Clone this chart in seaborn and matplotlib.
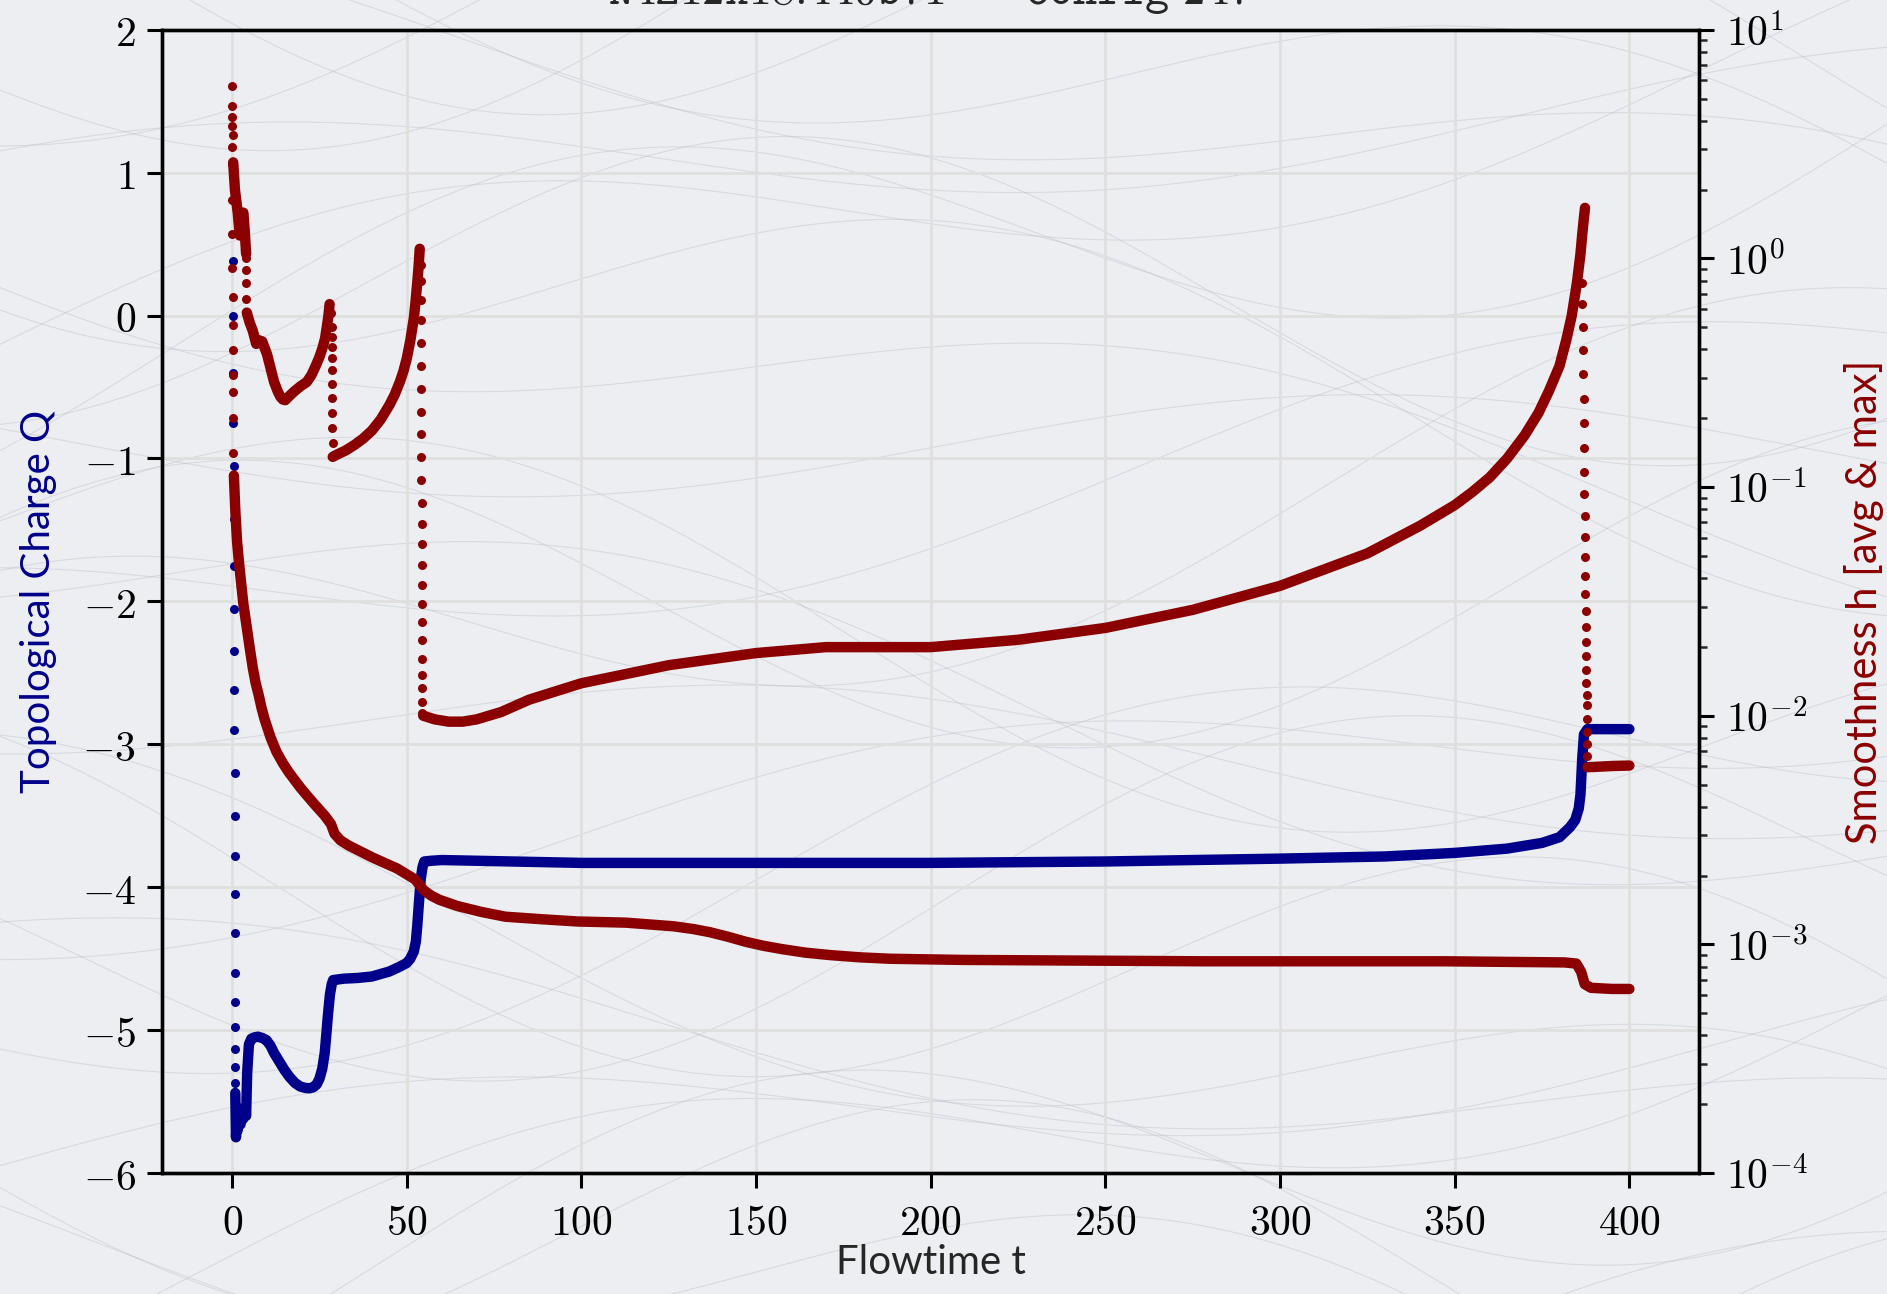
import numpy as np
import pandas as pd
import seaborn as sns
import matplotlib.pyplot as plt
from matplotlib.ticker import FuncFormatter, LogLocator, MultipleLocator

# ---- data ----
# topological charge Q: fast initial drop (sparse dots) then continuous flow
q_drop_t = [0.2, 0.25, 0.3, 0.35, 0.4, 0.45, 0.5, 0.55, 0.6, 0.62, 0.65, 0.68, 0.7, 0.72, 0.74, 0.76, 0.78, 0.8, 0.82, 0.84, 0.86, 0.88]
q_drop = [0.38, 0.0, -0.40, -0.75, -1.05, -1.42, -1.75, -2.05, -2.35, -2.62, -2.90, -3.20, -3.50, -3.78, -4.05, -4.32, -4.60, -4.80, -4.98, -5.13, -5.26, -5.37]

q_t = [0.9, 1.1, 1.3, 1.6, 2.0, 2.4, 2.8, 3.2, 3.6, 4.0, 4.3, 4.8, 5.5, 6.5, 7.4, 8.6, 9.8, 11.0, 12.0, 13.5, 15.0, 16.5, 18.0, 19.5, 21.0, 22.2, 23.2, 24.2, 25.0, 25.8, 26.5, 27.0, 27.4, 28.0, 28.5, 28.9,
       32.0, 36.0, 40.0, 45.0, 48.0, 50.0, 51.0, 52.0, 52.6, 53.0, 53.5, 54.0, 54.5, 55.0, 57.0, 60.0,
       100.0, 150.0, 200.0, 250.0, 300.0, 330.0, 350.0, 365.0, 375.0, 380.0, 383.0, 384.5, 385.5, 386.0, 386.5, 387.0, 388.0, 400.0]
q = [-5.44, -5.75, -5.62, -5.70, -5.55, -5.66, -5.60, -5.62, -5.55, -5.60, -5.30, -5.10, -5.06, -5.05, -5.046, -5.055, -5.07, -5.11, -5.16, -5.22, -5.28, -5.33, -5.37, -5.395, -5.405, -5.407, -5.40, -5.38, -5.34, -5.27, -5.16, -5.02, -4.90, -4.75, -4.68, -4.65,
     -4.64, -4.635, -4.625, -4.59, -4.556, -4.53, -4.50, -4.45, -4.38, -4.27, -4.10, -3.94, -3.86, -3.82, -3.815, -3.81,
     -3.83, -3.83, -3.83, -3.82, -3.80, -3.785, -3.76, -3.73, -3.69, -3.65, -3.58, -3.53, -3.45, -3.35, -3.10, -2.93, -2.894, -2.894]

# smoothness max (log10 h): continuous pieces and dotted jumps
hmax_dot_t = [0.0, 0.0, 0.05, 0.1, 0.15, 4.1, 4.1, 4.1, 4.1, 4.1,
              28.4, 28.45, 28.5, 28.5, 28.55, 28.6, 28.6, 28.65, 28.7, 28.7, 28.75,
              54.0, 54.02, 54.04, 54.06, 54.08, 54.1, 54.12, 54.14, 54.16, 54.18, 54.2, 54.22, 54.24, 54.26, 54.28, 54.3, 54.32, 54.34, 54.36, 54.38, 54.4, 54.42, 54.44, 54.46,
              386.4, 386.5, 386.6, 386.7, 386.8, 386.9, 387.0, 387.05, 387.1, 387.15, 387.2, 387.25, 387.3, 387.35, 387.4, 387.45, 387.5, 387.55, 387.6, 387.65, 387.7, 387.75, 387.8, 387.82, 387.85, 387.87, 387.9]
hmax_dot = [0.752, 0.668, 0.62, 0.58, 0.54, 0.0, -0.05, -0.107, -0.177, -0.238,
            -0.24, -0.30, -0.343, -0.387, -0.435, -0.49, -0.549, -0.61, -0.675, -0.741, -0.807,
            -0.03, -0.10, -0.18, -0.27, -0.37, -0.47, -0.57, -0.67, -0.77, -0.87, -0.97, -1.07, -1.16, -1.25, -1.34, -1.43, -1.51, -1.59, -1.67, -1.75, -1.82, -1.88, -1.94, -1.99,
            -0.108, -0.199, -0.298, -0.400, -0.506, -0.614, -0.722, -0.827, -0.932, -1.030, -1.126, -1.218, -1.305, -1.388, -1.467, -1.541, -1.612, -1.677, -1.741, -1.800, -1.855, -1.909, -1.953, -2.014, -2.07, -2.123, -2.175]

hmax_a_t = [0.3, 0.8, 1.2, 1.6, 2.2, 2.8, 3.2, 3.6, 4.0]
hmax_a = [0.42, 0.30, 0.25, 0.20, 0.10, 0.18, 0.20, 0.12, 0.02]
hmax_b_t = [4.2, 5.0, 5.9, 6.9, 7.6, 8.6, 10.0, 11.0, 12.0, 13.0, 13.8, 14.5, 15.2, 16.5, 17.9, 19.5, 21.4, 22.7, 23.8, 24.9, 25.8, 26.6, 27.2, 27.6, 27.9]
hmax_b = [-0.237, -0.28, -0.316, -0.374, -0.358, -0.363, -0.42, -0.48, -0.54, -0.58, -0.605, -0.617, -0.62, -0.60, -0.58, -0.56, -0.54, -0.51, -0.474, -0.435, -0.395, -0.35, -0.29, -0.245, -0.20]
hmax_c_t = [28.8, 30.0, 32.5, 35.0, 37.5, 40.0, 42.5, 45.0, 46.5, 48.0, 49.0, 50.0, 51.0, 52.0, 52.5, 53.0, 53.4, 53.7]
hmax_c = [-0.868, -0.858, -0.84, -0.816, -0.788, -0.753, -0.705, -0.642, -0.597, -0.54, -0.495, -0.437, -0.36, -0.263, -0.19, -0.105, -0.03, 0.042]
hmax_d_t = [54.7, 58, 62, 66, 70, 77, 85, 100, 125, 150, 170, 200, 225, 250, 275, 300, 325, 340, 350, 355, 360, 365, 370, 374, 377, 380, 382, 383.5, 385, 386, 386.5, 387.0, 387.3]
hmax_d = [-2.0, -2.016, -2.026, -2.026, -2.016, -1.984, -1.93, -1.858, -1.779, -1.726, -1.70, -1.70, -1.668, -1.616, -1.537, -1.432, -1.29, -1.17, -1.079, -1.022, -0.958, -0.875, -0.774, -0.675, -0.579, -0.47, -0.353, -0.25, -0.105, 0.02, 0.105, 0.18, 0.221]
hmax_e_t = [388.0, 390.0, 395.0, 400.0]
hmax_e = [-2.225, -2.224, -2.22, -2.218]

# smoothness avg (log10 h)
havg_dot_t = [0.0, 0.02, 0.05, 0.08, 0.1, 0.12, 0.15, 0.18, 0.2, 0.22, 0.25, 0.28]
havg_dot = [0.488, 0.414, 0.256, 0.108, -0.04, -0.169, -0.29, -0.40, -0.509, -0.583, -0.70, -0.85]
havg_t = [0.5, 0.9, 1.4, 1.9, 2.4, 3.2, 4.1, 5.0, 5.9, 6.7, 7.6, 8.4, 9.3, 11.0, 12.7, 14.5, 16.2, 19.6, 23.1, 26.5, 28.3, 29.3, 31.0, 33.4, 40.3, 47.2, 52.4, 54.8, 57.0, 59.3, 64.4, 71.3, 78.2, 88.5, 98.9,
          112.7, 126.4, 132.0, 136.8, 142.0, 147.1, 152.0, 157.5, 164.0, 171.2, 180.0, 188.5, 209.1, 278, 347, 381.4, 384.8, 386.2, 387.2, 389, 395, 400]
havg = [-0.95, -1.10, -1.237, -1.32, -1.395, -1.51, -1.605, -1.70, -1.79, -1.855, -1.91, -1.965, -2.016, -2.095, -2.158, -2.207, -2.247, -2.316, -2.379, -2.437, -2.474, -2.516, -2.545, -2.568, -2.621, -2.668, -2.716, -2.763, -2.787, -2.805, -2.832, -2.858, -2.879, -2.89, -2.90,
        -2.905, -2.921, -2.933, -2.947, -2.967, -2.989, -3.006, -3.021, -3.036, -3.047, -3.057, -3.063, -3.068, -3.074, -3.074, -3.079, -3.084, -3.12, -3.174, -3.19, -3.195, -3.195]

x_ticks = [0, 50, 100, 150, 200, 250, 300, 350, 400]

BLUE = '#00008b'
RED = '#8b0000'
BG = '#eceef2'

sns.set_style('ticks')
plt.rcParams['mathtext.fontset'] = 'cm'
plt.rcParams['font.family'] = ['DejaVu Sans']

fig = plt.figure(figsize=(18.87, 12.94), dpi=100, facecolor=BG)

# faint background texture
bg = fig.add_axes([0, 0, 1, 1], zorder=-10)
bg.set_facecolor(BG)
bg.set_xlim(0, 1)
bg.set_ylim(0, 1)
bg.axis('off')
xs = np.linspace(0, 1, 300)
for k in range(36):
    off = k / 36.0
    amp = 0.08 + 0.04 * np.cos(k)
    yy = off * 1.4 - 0.2 + amp * np.sin(2.2 * np.pi * xs + k * 0.7) + 0.25 * (xs - 0.5) * np.sin(k)
    bg.plot(xs, yy, color='#b8bcc4', lw=0.8, alpha=0.4)

ax = fig.add_axes([0.086, 0.0935, 0.8145, 0.8835])
ax.patch.set_alpha(0)
ax2 = ax.twinx()

LW = 7.5
DOT = 42

# Q series
sns.scatterplot(x=q_drop_t, y=q_drop, ax=ax, color=BLUE, s=DOT, linewidth=0, zorder=3)
sns.lineplot(x=q_t, y=q, ax=ax, color=BLUE, lw=LW, sort=False, zorder=3)

# smoothness
def lg(v):
    return 10 ** np.asarray(v, dtype=float)

for tt, vv in [(hmax_a_t, hmax_a), (hmax_b_t, hmax_b), (hmax_c_t, hmax_c),
               (hmax_d_t, hmax_d), (hmax_e_t, hmax_e), (havg_t, havg)]:
    sns.lineplot(x=tt, y=lg(vv), ax=ax2, color=RED, lw=LW, sort=False)
sns.scatterplot(x=hmax_dot_t, y=lg(hmax_dot), ax=ax2, color=RED, s=DOT, linewidth=0)
sns.scatterplot(x=havg_dot_t, y=lg(havg_dot), ax=ax2, color=RED, s=DOT, linewidth=0)

ax.set_xlim(-20, 420)
ax.set_ylim(-6, 2)
ax2.set_yscale('log')
ax2.set_ylim(1e-4, 1e1)

ax.set_xticks(x_ticks)
ax.yaxis.set_major_locator(MultipleLocator(1))
ax.xaxis.set_major_formatter(FuncFormatter(lambda v, p: r'$%d$' % v))
ax.yaxis.set_major_formatter(FuncFormatter(lambda v, p: r'$%d$' % v))
ax2.yaxis.set_major_locator(LogLocator(base=10, numticks=10))
ax2.yaxis.set_minor_locator(LogLocator(base=10, subs=np.arange(2, 10), numticks=20))
ax2.yaxis.set_major_formatter(FuncFormatter(lambda v, p: r'$10^{%d}$' % round(np.log10(v))))

ax.grid(True, color='#dfdfdf', lw=2)
ax2.grid(False)
ax.set_axisbelow(True)

for a in (ax, ax2):
    for s in a.spines.values():
        s.set_linewidth(2.4)
        s.set_color('black')
    a.tick_params(which='major', length=11, width=2.2, labelsize=30, pad=8, direction='out', colors='black')
    a.tick_params(which='minor', length=6, width=1.8, direction='out')
ax.tick_params(axis='x', pad=10)

ax.set_xlabel('Flowtime t', fontsize=29, fontfamily='Lato', labelpad=0)
ax.set_ylabel('Topological Charge Q', fontsize=29, fontfamily='Lato', color=BLUE, labelpad=18)
ax2.set_ylabel('Smoothness h [avg & max]', fontsize=30, fontfamily='Lato', color=RED, labelpad=26)

fig.text(0.493, 0.997, r'$\mathtt{N4Z12x18.440b71\ -\ Config\ 247}$', fontsize=33,
         ha='center', va='baseline')

fig.savefig('out.png', dpi=100, facecolor=BG)
